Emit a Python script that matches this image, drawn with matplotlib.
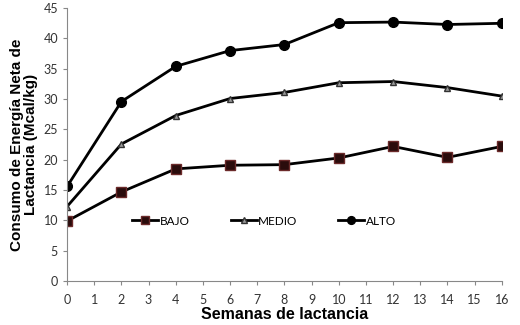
import matplotlib
matplotlib.use("Agg")
import matplotlib.pyplot as plt

semanas = [0, 2, 4, 6, 8, 10, 12, 14, 16]
bajo = [9.9, 14.7, 18.5, 19.1, 19.2, 20.3, 22.2, 20.4, 22.2]
medio = [12.3, 22.6, 27.3, 30.1, 31.1, 32.7, 32.9, 31.9, 30.5]
alto = [15.6, 29.6, 35.4, 38.0, 39.0, 42.6, 42.7, 42.3, 42.5]

plt.rcParams["font.family"] = ["Lato", "DejaVu Sans"]

fig = plt.figure(figsize=(5.2, 3.25), dpi=100)
ax = fig.add_axes([0.129, 0.135, 0.836, 0.84])

ax.plot(semanas, bajo, color="black", lw=2, marker="s", ms=7,
        mfc="#2a0c0c", mec="#6b2a2a", label="BAJO")
ax.plot(semanas, medio, color="black", lw=2, marker="^", ms=5,
        mfc="#9a9a9a", mec="#333333", label="MEDIO")
ax.plot(semanas, alto, color="black", lw=2, marker="o", ms=7,
        mfc="black", mec="black", label="ALTO")

ax.set_xlim(0, 16)
ax.set_ylim(0, 45)
ax.set_xticks(range(0, 17))
ax.set_yticks(range(0, 46, 5))
for s in ["top", "right"]:
    ax.spines[s].set_visible(False)
for s in ["left", "bottom"]:
    ax.spines[s].set_color("#888888")
ax.tick_params(colors="#888888", labelcolor="#333333", labelsize=9, length=3)
ax.tick_params(axis="x", pad=6)

ax.set_xlabel("Semanas de lactancia", fontsize=11.5, fontweight="bold",
              family="Liberation Sans")
ax.xaxis.set_label_coords(0.5, -0.095)
ax.set_ylabel("Consumo de Energía Neta de\nLactancia (Mcal/kg)", fontsize=11,
              fontweight="bold", family="Liberation Sans", labelpad=4,
              linespacing=1.0)

ax.legend(loc="center", bbox_to_anchor=(0.453, 0.22), ncol=3, frameon=False,
          fontsize=8.5, handlelength=2.2, handletextpad=0.1, columnspacing=3.5,
          markerscale=0.8)

fig.savefig("out.png", dpi=100)
